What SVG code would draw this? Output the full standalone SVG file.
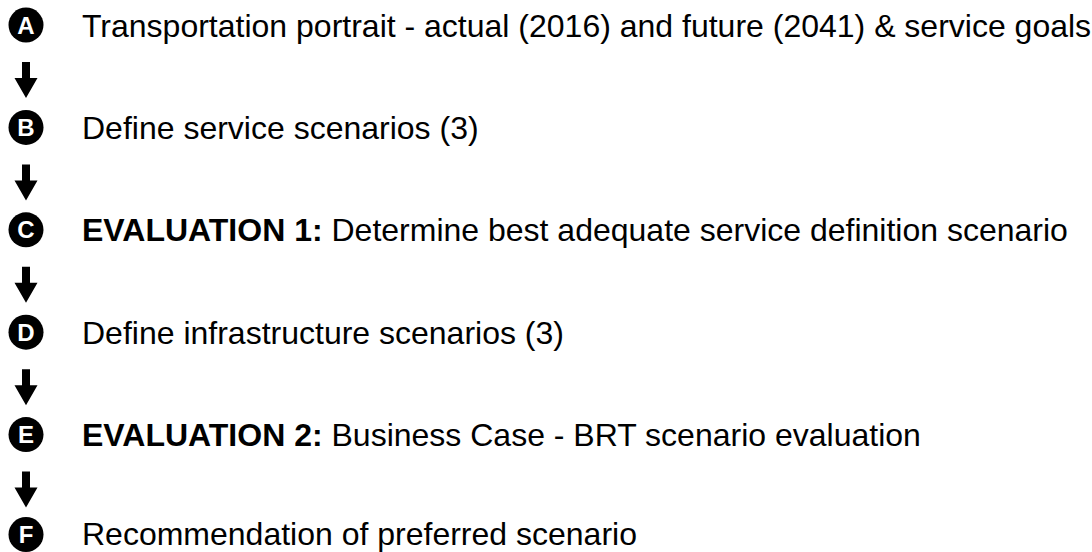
<svg xmlns="http://www.w3.org/2000/svg" width="1092" height="552" viewBox="0 0 1092 552">
<style>
.c{fill:#000}
.l{fill:#fff;font-family:"Liberation Sans",Arial,sans-serif;font-weight:bold;font-size:24px;text-anchor:middle}
.t{fill:#000;font-family:"Liberation Sans",Arial,sans-serif;font-size:32px}
.b{font-weight:bold}
</style>
<defs>
<path id="arr" d="M-4,0 H4 V16 H11.5 L0,36 L-11.5,16 H-4 Z" fill="#000"/>
</defs>
<rect width="1092" height="552" fill="#fff"/>
<g id="connectors">
<use href="#arr" x="26" y="62"/>
<use href="#arr" x="26" y="164.4"/>
<use href="#arr" x="26" y="266.8"/>
<use href="#arr" x="26" y="369.2"/>
<use href="#arr" x="26" y="471.6"/>
</g>
<g id="A"><circle class="c" cx="26" cy="25" r="17.5"/><text class="l" x="26" y="33.6">A</text><text class="t" x="82" y="36.5">Transportation portrait - actual (2016) and future (2041) &amp; service goals</text></g>
<g id="B"><circle class="c" cx="26" cy="127.4" r="17.5"/><text class="l" x="26" y="136">B</text><text class="t" x="82" y="138.9">Define service scenarios (3)</text></g>
<g id="C"><circle class="c" cx="26" cy="229.8" r="17.5"/><text class="l" x="26" y="238.4">C</text><text class="t" x="82" y="241.3"><tspan class="b">EVALUATION 1:</tspan> Determine best adequate service definition scenario</text></g>
<g id="D"><circle class="c" cx="26" cy="332.2" r="17.5"/><text class="l" x="26" y="340.8">D</text><text class="t" x="82" y="343.7">Define infrastructure scenarios (3)</text></g>
<g id="E"><circle class="c" cx="26" cy="434.6" r="17.5"/><text class="l" x="26" y="443.2">E</text><text class="t" x="82" y="446.1"><tspan class="b">EVALUATION 2:</tspan> Business Case - BRT scenario evaluation</text></g>
<g id="F"><circle class="c" cx="26" cy="534.5" r="17.5"/><text class="l" x="26" y="543.1">F</text><text class="t" x="82" y="545">Recommendation of preferred scenario</text></g>
</svg>
